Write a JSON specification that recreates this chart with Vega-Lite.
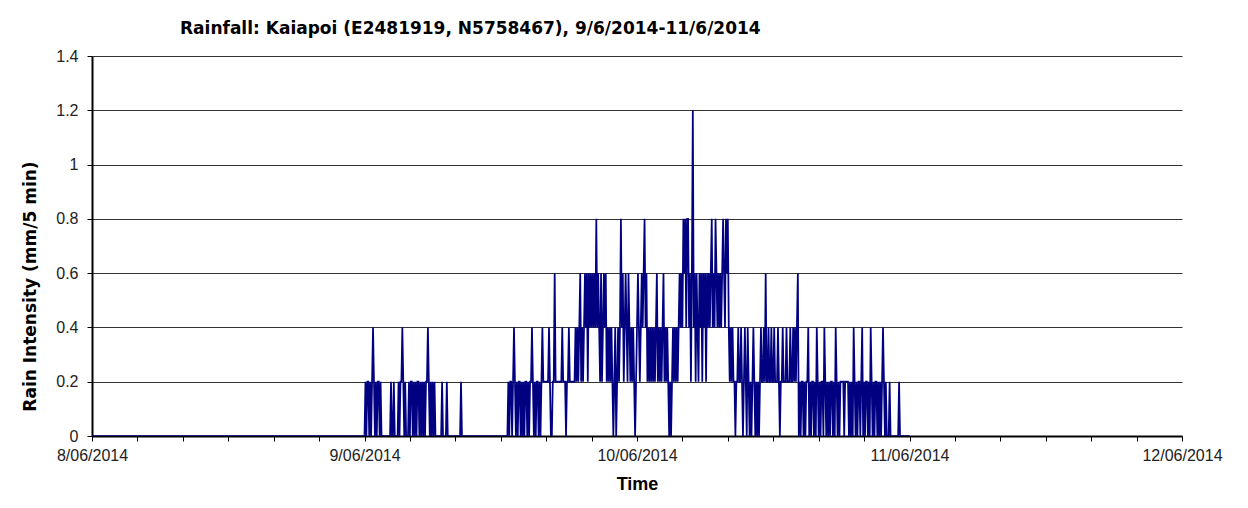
{
"$schema":"https://vega.github.io/schema/vega-lite/v6.json",
"width":1090,"height":380,
"autosize":{"type":"none"},
"padding":{"left":92,"top":56,"right":66,"bottom":72},
"background":"white",
"config":{"view":{"stroke":null},"font":"Liberation Sans"},
"title":{"text":"Rainfall:  Kaiapoi (E2481919, N5758467), 9/6/2014-11/6/2014","anchor":"start","frame":"group","dx":88,"fontSize":17,"fontWeight":"bold","font":"DejaVu Sans","color":"#000","offset":10},
"data":{"values":[
{"t":"2014-06-08T00:00","v":0},{"t":"2014-06-08T23:55","v":0},
{"t":"2014-06-09T00:00","v":0},{"t":"2014-06-09T00:05","v":0.2},{"t":"2014-06-09T00:10","v":0},{"t":"2014-06-09T00:15","v":0.2},{"t":"2014-06-09T00:20","v":0.2},{"t":"2014-06-09T00:25","v":0},{"t":"2014-06-09T00:30","v":0.2},{"t":"2014-06-09T00:35","v":0},{"t":"2014-06-09T00:40","v":0.2},{"t":"2014-06-09T00:45","v":0.4},{"t":"2014-06-09T00:50","v":0.2},{"t":"2014-06-09T00:55","v":0},{"t":"2014-06-09T01:00","v":0.2},{"t":"2014-06-09T01:05","v":0},{"t":"2014-06-09T01:10","v":0.2},{"t":"2014-06-09T01:15","v":0.2},{"t":"2014-06-09T01:20","v":0},{"t":"2014-06-09T01:25","v":0.2},{"t":"2014-06-09T01:30","v":0},
{"t":"2014-06-09T02:15","v":0},{"t":"2014-06-09T02:20","v":0.2},{"t":"2014-06-09T02:25","v":0},{"t":"2014-06-09T02:30","v":0},{"t":"2014-06-09T02:35","v":0.2},{"t":"2014-06-09T02:40","v":0},{"t":"2014-06-09T02:55","v":0},{"t":"2014-06-09T03:00","v":0.2},{"t":"2014-06-09T03:05","v":0},{"t":"2014-06-09T03:10","v":0.2},{"t":"2014-06-09T03:15","v":0.2},{"t":"2014-06-09T03:20","v":0.4},{"t":"2014-06-09T03:25","v":0.2},{"t":"2014-06-09T03:30","v":0},{"t":"2014-06-09T03:35","v":0.2},{"t":"2014-06-09T03:40","v":0},
{"t":"2014-06-09T03:50","v":0},{"t":"2014-06-09T03:55","v":0.2},{"t":"2014-06-09T04:00","v":0},{"t":"2014-06-09T04:05","v":0.2},{"t":"2014-06-09T04:10","v":0.2},{"t":"2014-06-09T04:15","v":0},{"t":"2014-06-09T04:20","v":0.2},{"t":"2014-06-09T04:25","v":0},{"t":"2014-06-09T04:30","v":0.2},{"t":"2014-06-09T04:35","v":0},{"t":"2014-06-09T04:40","v":0.2},{"t":"2014-06-09T04:45","v":0.2},{"t":"2014-06-09T04:50","v":0},{"t":"2014-06-09T04:55","v":0.2},{"t":"2014-06-09T05:00","v":0},{"t":"2014-06-09T05:05","v":0.2},{"t":"2014-06-09T05:10","v":0},{"t":"2014-06-09T05:15","v":0.2},{"t":"2014-06-09T05:20","v":0},{"t":"2014-06-09T05:25","v":0.2},{"t":"2014-06-09T05:30","v":0.2},{"t":"2014-06-09T05:35","v":0.4},{"t":"2014-06-09T05:40","v":0.2},{"t":"2014-06-09T05:45","v":0},{"t":"2014-06-09T05:50","v":0.2},{"t":"2014-06-09T05:55","v":0},{"t":"2014-06-09T06:00","v":0.2},{"t":"2014-06-09T06:05","v":0},{"t":"2014-06-09T06:10","v":0.2},{"t":"2014-06-09T06:15","v":0},
{"t":"2014-06-09T06:45","v":0},{"t":"2014-06-09T06:50","v":0.2},{"t":"2014-06-09T06:55","v":0},{"t":"2014-06-09T07:10","v":0},{"t":"2014-06-09T07:15","v":0.2},{"t":"2014-06-09T07:20","v":0},{"t":"2014-06-09T08:25","v":0},{"t":"2014-06-09T08:30","v":0.2},{"t":"2014-06-09T08:35","v":0},
{"t":"2014-06-09T12:35","v":0},{"t":"2014-06-09T12:40","v":0.2},{"t":"2014-06-09T12:45","v":0},{"t":"2014-06-09T12:50","v":0.2},{"t":"2014-06-09T12:55","v":0.2},{"t":"2014-06-09T13:00","v":0},{"t":"2014-06-09T13:05","v":0.2},{"t":"2014-06-09T13:10","v":0.4},{"t":"2014-06-09T13:15","v":0.2},{"t":"2014-06-09T13:20","v":0},{"t":"2014-06-09T13:25","v":0.2},{"t":"2014-06-09T13:30","v":0},{"t":"2014-06-09T13:35","v":0.2},{"t":"2014-06-09T13:40","v":0.2},{"t":"2014-06-09T13:45","v":0},{"t":"2014-06-09T13:50","v":0.2},{"t":"2014-06-09T13:55","v":0},{"t":"2014-06-09T14:00","v":0.2},{"t":"2014-06-09T14:05","v":0},{"t":"2014-06-09T14:10","v":0.2},{"t":"2014-06-09T14:15","v":0.2},{"t":"2014-06-09T14:20","v":0},{"t":"2014-06-09T14:25","v":0.2},{"t":"2014-06-09T14:30","v":0},{"t":"2014-06-09T14:35","v":0.2},{"t":"2014-06-09T14:40","v":0.2},{"t":"2014-06-09T14:45","v":0.4},{"t":"2014-06-09T14:50","v":0.2},{"t":"2014-06-09T14:55","v":0},{"t":"2014-06-09T15:00","v":0.2},{"t":"2014-06-09T15:05","v":0},{"t":"2014-06-09T15:10","v":0.2},{"t":"2014-06-09T15:15","v":0.2},{"t":"2014-06-09T15:20","v":0},{"t":"2014-06-09T15:25","v":0.2},{"t":"2014-06-09T15:30","v":0},{"t":"2014-06-09T15:35","v":0.2},{"t":"2014-06-09T15:40","v":0.4},{"t":"2014-06-09T15:45","v":0.2},{"t":"2014-06-09T15:50","v":0.2},{"t":"2014-06-09T15:55","v":0.2},{"t":"2014-06-09T16:00","v":0.2},{"t":"2014-06-09T16:05","v":0.2},{"t":"2014-06-09T16:10","v":0.2},{"t":"2014-06-09T16:15","v":0.4},{"t":"2014-06-09T16:20","v":0.2},{"t":"2014-06-09T16:25","v":0},{"t":"2014-06-09T16:30","v":0},{"t":"2014-06-09T16:35","v":0.2},{"t":"2014-06-09T16:40","v":0.2},{"t":"2014-06-09T16:45","v":0.6},{"t":"2014-06-09T16:50","v":0.2},{"t":"2014-06-09T16:55","v":0.2},{"t":"2014-06-09T17:00","v":0.2},{"t":"2014-06-09T17:05","v":0.2},{"t":"2014-06-09T17:10","v":0.2},{"t":"2014-06-09T17:15","v":0.2},{"t":"2014-06-09T17:20","v":0.2},{"t":"2014-06-09T17:25","v":0.4},{"t":"2014-06-09T17:30","v":0.2},{"t":"2014-06-09T17:35","v":0.2},{"t":"2014-06-09T17:40","v":0.2},{"t":"2014-06-09T17:45","v":0},{"t":"2014-06-09T17:50","v":0.2},{"t":"2014-06-09T17:55","v":0.2},{"t":"2014-06-09T18:00","v":0.4},{"t":"2014-06-09T18:05","v":0.2},{"t":"2014-06-09T18:10","v":0.2},{"t":"2014-06-09T18:15","v":0.2},{"t":"2014-06-09T18:20","v":0.2},{"t":"2014-06-09T18:25","v":0.2},{"t":"2014-06-09T18:30","v":0.2},{"t":"2014-06-09T18:35","v":0.4},{"t":"2014-06-09T18:40","v":0.2},{"t":"2014-06-09T18:45","v":0.4},{"t":"2014-06-09T18:50","v":0.2},{"t":"2014-06-09T18:55","v":0.4},{"t":"2014-06-09T19:00","v":0.6},{"t":"2014-06-09T19:05","v":0.2},{"t":"2014-06-09T19:10","v":0.4},{"t":"2014-06-09T19:15","v":0.2},{"t":"2014-06-09T19:20","v":0.4},{"t":"2014-06-09T19:25","v":0.6},{"t":"2014-06-09T19:30","v":0.4},{"t":"2014-06-09T19:35","v":0.6},{"t":"2014-06-09T19:40","v":0.2},{"t":"2014-06-09T19:45","v":0.6},{"t":"2014-06-09T19:50","v":0.4},{"t":"2014-06-09T19:55","v":0.6},{"t":"2014-06-09T20:00","v":0.4},{"t":"2014-06-09T20:05","v":0.6},{"t":"2014-06-09T20:10","v":0.4},{"t":"2014-06-09T20:15","v":0.6},{"t":"2014-06-09T20:20","v":0.4},{"t":"2014-06-09T20:25","v":0.8},{"t":"2014-06-09T20:30","v":0.4},{"t":"2014-06-09T20:35","v":0.6},{"t":"2014-06-09T20:40","v":0.4},{"t":"2014-06-09T20:45","v":0.2},{"t":"2014-06-09T20:50","v":0.6},{"t":"2014-06-09T20:55","v":0.2},{"t":"2014-06-09T21:00","v":0.4},{"t":"2014-06-09T21:05","v":0.6},{"t":"2014-06-09T21:10","v":0.4},{"t":"2014-06-09T21:15","v":0.6},{"t":"2014-06-09T21:20","v":0.2},{"t":"2014-06-09T21:25","v":0.4},{"t":"2014-06-09T21:30","v":0.2},{"t":"2014-06-09T21:35","v":0.4},{"t":"2014-06-09T21:40","v":0.2},{"t":"2014-06-09T21:45","v":0.4},{"t":"2014-06-09T21:50","v":0.2},{"t":"2014-06-09T21:55","v":0},{"t":"2014-06-09T22:00","v":0.2},{"t":"2014-06-09T22:05","v":0.4},{"t":"2014-06-09T22:10","v":0},{"t":"2014-06-09T22:15","v":0.2},{"t":"2014-06-09T22:20","v":0.4},{"t":"2014-06-09T22:25","v":0.2},{"t":"2014-06-09T22:30","v":0.4},{"t":"2014-06-09T22:35","v":0.8},{"t":"2014-06-09T22:40","v":0.4},{"t":"2014-06-09T22:45","v":0.6},{"t":"2014-06-09T22:50","v":0.2},{"t":"2014-06-09T22:55","v":0.4},{"t":"2014-06-09T23:00","v":0.6},{"t":"2014-06-09T23:05","v":0.4},{"t":"2014-06-09T23:10","v":0.2},{"t":"2014-06-09T23:15","v":0.6},{"t":"2014-06-09T23:20","v":0.4},{"t":"2014-06-09T23:25","v":0.2},{"t":"2014-06-09T23:30","v":0.4},{"t":"2014-06-09T23:35","v":0.2},{"t":"2014-06-09T23:40","v":0.4},{"t":"2014-06-09T23:45","v":0.2},{"t":"2014-06-09T23:50","v":0},{"t":"2014-06-09T23:55","v":0.2},
{"t":"2014-06-10T00:00","v":0.4},{"t":"2014-06-10T00:05","v":0.6},{"t":"2014-06-10T00:10","v":0.4},{"t":"2014-06-10T00:15","v":0.2},{"t":"2014-06-10T00:20","v":0.4},{"t":"2014-06-10T00:25","v":0.6},{"t":"2014-06-10T00:30","v":0.4},{"t":"2014-06-10T00:35","v":0.6},{"t":"2014-06-10T00:40","v":0.8},{"t":"2014-06-10T00:45","v":0.4},{"t":"2014-06-10T00:50","v":0.6},{"t":"2014-06-10T00:55","v":0.2},{"t":"2014-06-10T01:00","v":0.4},{"t":"2014-06-10T01:05","v":0.2},{"t":"2014-06-10T01:10","v":0.4},{"t":"2014-06-10T01:15","v":0.2},{"t":"2014-06-10T01:20","v":0.4},{"t":"2014-06-10T01:25","v":0.2},{"t":"2014-06-10T01:30","v":0.4},{"t":"2014-06-10T01:35","v":0.2},{"t":"2014-06-10T01:40","v":0.4},{"t":"2014-06-10T01:45","v":0.6},{"t":"2014-06-10T01:50","v":0.2},{"t":"2014-06-10T01:55","v":0.4},{"t":"2014-06-10T02:00","v":0.2},{"t":"2014-06-10T02:05","v":0.4},{"t":"2014-06-10T02:10","v":0.2},{"t":"2014-06-10T02:15","v":0.4},{"t":"2014-06-10T02:20","v":0.6},{"t":"2014-06-10T02:25","v":0.2},{"t":"2014-06-10T02:30","v":0.4},{"t":"2014-06-10T02:35","v":0.2},{"t":"2014-06-10T02:40","v":0.4},{"t":"2014-06-10T02:45","v":0.2},{"t":"2014-06-10T02:50","v":0},{"t":"2014-06-10T02:55","v":0.2},{"t":"2014-06-10T03:00","v":0},{"t":"2014-06-10T03:05","v":0.2},{"t":"2014-06-10T03:10","v":0.4},{"t":"2014-06-10T03:15","v":0.2},{"t":"2014-06-10T03:20","v":0.4},{"t":"2014-06-10T03:25","v":0.2},{"t":"2014-06-10T03:30","v":0.4},{"t":"2014-06-10T03:35","v":0.2},{"t":"2014-06-10T03:40","v":0.4},{"t":"2014-06-10T03:45","v":0.6},{"t":"2014-06-10T03:50","v":0.4},{"t":"2014-06-10T03:55","v":0.6},{"t":"2014-06-10T04:00","v":0.4},{"t":"2014-06-10T04:05","v":0.8},{"t":"2014-06-10T04:10","v":0.6},{"t":"2014-06-10T04:15","v":0.8},{"t":"2014-06-10T04:20","v":0.4},{"t":"2014-06-10T04:25","v":0.8},{"t":"2014-06-10T04:30","v":0.8},{"t":"2014-06-10T04:35","v":0.4},{"t":"2014-06-10T04:40","v":0.6},{"t":"2014-06-10T04:45","v":0.2},{"t":"2014-06-10T04:50","v":0.6},{"t":"2014-06-10T04:55","v":1.2},{"t":"2014-06-10T05:00","v":0.4},{"t":"2014-06-10T05:05","v":0.6},{"t":"2014-06-10T05:10","v":0.2},{"t":"2014-06-10T05:15","v":0.6},{"t":"2014-06-10T05:20","v":0.4},{"t":"2014-06-10T05:25","v":0.2},{"t":"2014-06-10T05:30","v":0.6},{"t":"2014-06-10T05:35","v":0.4},{"t":"2014-06-10T05:40","v":0.6},{"t":"2014-06-10T05:45","v":0.2},{"t":"2014-06-10T05:50","v":0.6},{"t":"2014-06-10T05:55","v":0.4},{"t":"2014-06-10T06:00","v":0.6},{"t":"2014-06-10T06:05","v":0.2},{"t":"2014-06-10T06:10","v":0.6},{"t":"2014-06-10T06:15","v":0.4},{"t":"2014-06-10T06:20","v":0.6},{"t":"2014-06-10T06:25","v":0.4},{"t":"2014-06-10T06:30","v":0.6},{"t":"2014-06-10T06:35","v":0.8},{"t":"2014-06-10T06:40","v":0.4},{"t":"2014-06-10T06:45","v":0.6},{"t":"2014-06-10T06:50","v":0.4},{"t":"2014-06-10T06:55","v":0.8},{"t":"2014-06-10T07:00","v":0.6},{"t":"2014-06-10T07:05","v":0.4},{"t":"2014-06-10T07:10","v":0.6},{"t":"2014-06-10T07:15","v":0.4},{"t":"2014-06-10T07:20","v":0.6},{"t":"2014-06-10T07:25","v":0.4},{"t":"2014-06-10T07:30","v":0.6},{"t":"2014-06-10T07:35","v":0.8},{"t":"2014-06-10T07:40","v":0.6},{"t":"2014-06-10T07:45","v":0.4},{"t":"2014-06-10T07:50","v":0.8},{"t":"2014-06-10T07:55","v":0.6},{"t":"2014-06-10T08:00","v":0.8},{"t":"2014-06-10T08:05","v":0.4},{"t":"2014-06-10T08:10","v":0.2},{"t":"2014-06-10T08:15","v":0.4},{"t":"2014-06-10T08:20","v":0.2},{"t":"2014-06-10T08:25","v":0.4},{"t":"2014-06-10T08:30","v":0.2},{"t":"2014-06-10T08:35","v":0.2},{"t":"2014-06-10T08:40","v":0},{"t":"2014-06-10T08:45","v":0.2},{"t":"2014-06-10T08:50","v":0.2},{"t":"2014-06-10T08:55","v":0.4},{"t":"2014-06-10T09:00","v":0.2},{"t":"2014-06-10T09:05","v":0.2},{"t":"2014-06-10T09:10","v":0.4},{"t":"2014-06-10T09:15","v":0.2},{"t":"2014-06-10T09:20","v":0},{"t":"2014-06-10T09:25","v":0.2},{"t":"2014-06-10T09:30","v":0.4},{"t":"2014-06-10T09:35","v":0.2},{"t":"2014-06-10T09:40","v":0},{"t":"2014-06-10T09:45","v":0.4},{"t":"2014-06-10T09:50","v":0.2},{"t":"2014-06-10T09:55","v":0},{"t":"2014-06-10T10:00","v":0.2},{"t":"2014-06-10T10:05","v":0},{"t":"2014-06-10T10:10","v":0.2},{"t":"2014-06-10T10:15","v":0.4},{"t":"2014-06-10T10:20","v":0.2},{"t":"2014-06-10T10:25","v":0},{"t":"2014-06-10T10:30","v":0.2},{"t":"2014-06-10T10:35","v":0},{"t":"2014-06-10T10:40","v":0.2},{"t":"2014-06-10T10:45","v":0},{"t":"2014-06-10T10:50","v":0.2},{"t":"2014-06-10T10:55","v":0.4},{"t":"2014-06-10T11:00","v":0.2},{"t":"2014-06-10T11:05","v":0.2},{"t":"2014-06-10T11:10","v":0.4},{"t":"2014-06-10T11:15","v":0.2},{"t":"2014-06-10T11:20","v":0.6},{"t":"2014-06-10T11:25","v":0.2},{"t":"2014-06-10T11:30","v":0.2},{"t":"2014-06-10T11:35","v":0.4},{"t":"2014-06-10T11:40","v":0.2},{"t":"2014-06-10T11:45","v":0.2},{"t":"2014-06-10T11:50","v":0.4},{"t":"2014-06-10T11:55","v":0.2},{"t":"2014-06-10T12:00","v":0.2},{"t":"2014-06-10T12:05","v":0.4},{"t":"2014-06-10T12:10","v":0.2},{"t":"2014-06-10T12:15","v":0.2},{"t":"2014-06-10T12:20","v":0.2},{"t":"2014-06-10T12:25","v":0.4},{"t":"2014-06-10T12:30","v":0.2},{"t":"2014-06-10T12:35","v":0},{"t":"2014-06-10T12:40","v":0.2},{"t":"2014-06-10T12:45","v":0.2},{"t":"2014-06-10T12:50","v":0.4},{"t":"2014-06-10T12:55","v":0.2},{"t":"2014-06-10T13:00","v":0.2},{"t":"2014-06-10T13:05","v":0.2},{"t":"2014-06-10T13:10","v":0.4},{"t":"2014-06-10T13:15","v":0.2},{"t":"2014-06-10T13:20","v":0.2},{"t":"2014-06-10T13:25","v":0.2},{"t":"2014-06-10T13:30","v":0.4},{"t":"2014-06-10T13:35","v":0.2},{"t":"2014-06-10T13:40","v":0.2},{"t":"2014-06-10T13:45","v":0.4},{"t":"2014-06-10T13:50","v":0.2},{"t":"2014-06-10T13:55","v":0.4},{"t":"2014-06-10T14:00","v":0.2},{"t":"2014-06-10T14:05","v":0.4},{"t":"2014-06-10T14:10","v":0.6},{"t":"2014-06-10T14:15","v":0},{"t":"2014-06-10T14:20","v":0.2},{"t":"2014-06-10T14:25","v":0},{"t":"2014-06-10T14:30","v":0.2},{"t":"2014-06-10T14:35","v":0.2},{"t":"2014-06-10T14:40","v":0},{"t":"2014-06-10T14:45","v":0.2},{"t":"2014-06-10T14:50","v":0},{"t":"2014-06-10T14:55","v":0.2},{"t":"2014-06-10T15:00","v":0.2},{"t":"2014-06-10T15:05","v":0.4},{"t":"2014-06-10T15:10","v":0},{"t":"2014-06-10T15:15","v":0.2},{"t":"2014-06-10T15:20","v":0},{"t":"2014-06-10T15:25","v":0.2},{"t":"2014-06-10T15:30","v":0.2},{"t":"2014-06-10T15:35","v":0},{"t":"2014-06-10T15:40","v":0.2},{"t":"2014-06-10T15:45","v":0},{"t":"2014-06-10T15:50","v":0.4},{"t":"2014-06-10T15:55","v":0.2},{"t":"2014-06-10T16:00","v":0},{"t":"2014-06-10T16:05","v":0.2},{"t":"2014-06-10T16:10","v":0},{"t":"2014-06-10T16:15","v":0.2},{"t":"2014-06-10T16:20","v":0.2},{"t":"2014-06-10T16:25","v":0},{"t":"2014-06-10T16:30","v":0.4},{"t":"2014-06-10T16:35","v":0.2},{"t":"2014-06-10T16:40","v":0},{"t":"2014-06-10T16:45","v":0.2},{"t":"2014-06-10T16:50","v":0},{"t":"2014-06-10T16:55","v":0.2},{"t":"2014-06-10T17:00","v":0},{"t":"2014-06-10T17:05","v":0.2},{"t":"2014-06-10T17:10","v":0.2},{"t":"2014-06-10T17:15","v":0},{"t":"2014-06-10T17:20","v":0.2},{"t":"2014-06-10T17:25","v":0},{"t":"2014-06-10T17:30","v":0.4},{"t":"2014-06-10T17:35","v":0.2},{"t":"2014-06-10T17:40","v":0},{"t":"2014-06-10T17:45","v":0.2},{"t":"2014-06-10T17:50","v":0},{"t":"2014-06-10T17:55","v":0.2},{"t":"2014-06-10T18:00","v":0.2},{"t":"2014-06-10T18:05","v":0.2},{"t":"2014-06-10T18:10","v":0.2},{"t":"2014-06-10T18:15","v":0},{"t":"2014-06-10T18:20","v":0.2},{"t":"2014-06-10T18:25","v":0.2},{"t":"2014-06-10T18:30","v":0.2},{"t":"2014-06-10T18:35","v":0.2},{"t":"2014-06-10T18:40","v":0},{"t":"2014-06-10T18:45","v":0.2},{"t":"2014-06-10T18:50","v":0},{"t":"2014-06-10T18:55","v":0.2},{"t":"2014-06-10T19:00","v":0},{"t":"2014-06-10T19:05","v":0.4},{"t":"2014-06-10T19:10","v":0.2},{"t":"2014-06-10T19:15","v":0},{"t":"2014-06-10T19:20","v":0.2},{"t":"2014-06-10T19:25","v":0},{"t":"2014-06-10T19:30","v":0.2},{"t":"2014-06-10T19:35","v":0.2},{"t":"2014-06-10T19:40","v":0},{"t":"2014-06-10T19:45","v":0.2},{"t":"2014-06-10T19:50","v":0.4},{"t":"2014-06-10T19:55","v":0},{"t":"2014-06-10T20:00","v":0.2},{"t":"2014-06-10T20:05","v":0},{"t":"2014-06-10T20:10","v":0.2},{"t":"2014-06-10T20:15","v":0.2},{"t":"2014-06-10T20:20","v":0},{"t":"2014-06-10T20:25","v":0.2},{"t":"2014-06-10T20:30","v":0},{"t":"2014-06-10T20:35","v":0.4},{"t":"2014-06-10T20:40","v":0.2},{"t":"2014-06-10T20:45","v":0},{"t":"2014-06-10T20:50","v":0.2},{"t":"2014-06-10T20:55","v":0},{"t":"2014-06-10T21:00","v":0.2},{"t":"2014-06-10T21:05","v":0.2},{"t":"2014-06-10T21:10","v":0},{"t":"2014-06-10T21:15","v":0.2},{"t":"2014-06-10T21:20","v":0},{"t":"2014-06-10T21:25","v":0.2},{"t":"2014-06-10T21:30","v":0},{"t":"2014-06-10T21:35","v":0.2},{"t":"2014-06-10T21:40","v":0.4},{"t":"2014-06-10T21:45","v":0.2},{"t":"2014-06-10T21:50","v":0},{"t":"2014-06-10T21:55","v":0.2},{"t":"2014-06-10T22:00","v":0},{"t":"2014-06-10T22:10","v":0},{"t":"2014-06-10T22:15","v":0.2},{"t":"2014-06-10T22:20","v":0},{"t":"2014-06-10T23:00","v":0},{"t":"2014-06-10T23:05","v":0.2},{"t":"2014-06-10T23:10","v":0},{"t":"2014-06-11T00:00","v":0}
]},
"mark":{"type":"line","color":"#000080","strokeWidth":1.75,"clip":true},
"encoding":{
"x":{"field":"t","type":"temporal","title":"Time",
"scale":{"domain":[{"year":2014,"month":6,"date":8},{"year":2014,"month":6,"date":12}],"nice":false},
"axis":{"values":[{"year":2014,"month":6,"date":8,"hours":0},{"year":2014,"month":6,"date":8,"hours":4},{"year":2014,"month":6,"date":8,"hours":8},{"year":2014,"month":6,"date":8,"hours":12},{"year":2014,"month":6,"date":8,"hours":16},{"year":2014,"month":6,"date":8,"hours":20},{"year":2014,"month":6,"date":9,"hours":0},{"year":2014,"month":6,"date":9,"hours":4},{"year":2014,"month":6,"date":9,"hours":8},{"year":2014,"month":6,"date":9,"hours":12},{"year":2014,"month":6,"date":9,"hours":16},{"year":2014,"month":6,"date":9,"hours":20},{"year":2014,"month":6,"date":10,"hours":0},{"year":2014,"month":6,"date":10,"hours":4},{"year":2014,"month":6,"date":10,"hours":8},{"year":2014,"month":6,"date":10,"hours":12},{"year":2014,"month":6,"date":10,"hours":16},{"year":2014,"month":6,"date":10,"hours":20},{"year":2014,"month":6,"date":11,"hours":0},{"year":2014,"month":6,"date":11,"hours":4},{"year":2014,"month":6,"date":11,"hours":8},{"year":2014,"month":6,"date":11,"hours":12},{"year":2014,"month":6,"date":11,"hours":16},{"year":2014,"month":6,"date":11,"hours":20},{"year":2014,"month":6,"date":12,"hours":0}],
"labelExpr":"hours(datum.value)===0 ? timeFormat(datum.value,'%-d/%m/%Y') : ''","labelOverlap":false,"labelFlush":false,"grid":false,"domainColor":"#000","domainWidth":2,"tickColor":"#000","tickWidth":1,"tickSize":5,"labelFontSize":16,"labelColor":"#222","labelFont":"Liberation Sans","labelPadding":6,"titleFontSize":18,"titleFontWeight":"bold","titleColor":"#000","titleFont":"Liberation Sans","titlePadding":12}},
"y":{"field":"v","type":"quantitative","title":"Rain Intensity (mm/5 min)",
"scale":{"domain":[0,1.4],"nice":false},
"axis":{"values":[0,0.2,0.4,0.6,0.8,1,1.2,1.4],"format":"~g","grid":true,"gridColor":"#333","gridWidth":1,"domainColor":"#000","domainWidth":2,"tickColor":"#000","tickSize":5,"labelFontSize":16,"labelColor":"#222","labelFont":"Liberation Sans","labelPadding":9,"titleFontSize":17,"titleFontWeight":"bold","titleColor":"#000","titleFont":"DejaVu Sans","titleY":230,"titleX":-62,"titleAngle":270,"titleAlign":"center","titleBaseline":"middle"}}
}
}
